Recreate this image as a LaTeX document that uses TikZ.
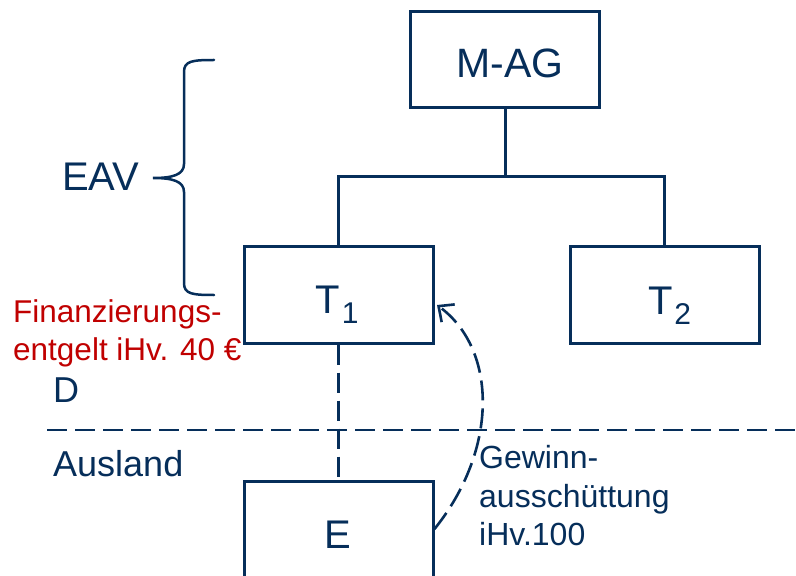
\documentclass[tikz,border=0pt]{standalone}
\usepackage{fontspec}
\setmainfont{Liberation Sans}
\usetikzlibrary{arrows.meta}
\definecolor{navy}{RGB}{6,46,90}
\definecolor{dred}{RGB}{192,0,0}
\newcommand{\fs}[1]{\fontsize{#1bp}{#1bp}\selectfont}
\begin{document}
\begin{tikzpicture}[x=1bp,y=-1bp,
  box/.style={draw=navy,line width=3bp,minimum width=189bp,minimum height=96bp,inner sep=0pt},
  lbl/.style={text=navy,inner sep=0pt},
  redlbl/.style={text=dred,inner sep=0pt,anchor=base west,font=\fs{31.5}},
  conn/.style={draw=navy,line width=3bp},
  dline/.style={draw=navy,line width=2.6bp,dash pattern=on 20bp off 8bp}]
\useasboundingbox (0,0) rectangle (796,576);
% boxes
\node[box] (mag) at (505,60) {};
\node[box] (t1) at (338.5,295) {};
\node[box] (t2) at (664.5,295) {};
\node[box] (e) at (338.5,529) {};
% box labels
\node[lbl,anchor=base,font=\fs{41}] (magl) at (510,78) {M-AG};
\node[lbl,anchor=base,font=\fs{40}] (t1l) at (337,313) {T\kern2bp\raisebox{-10bp}{\fs{30}1}};
\node[lbl,anchor=base,font=\fs{40}] (t2l) at (670,314) {T\kern1bp\raisebox{-10bp}{\fs{30}2}};
\node[lbl,anchor=base,font=\fs{40}] (el) at (338,548) {E};
% tree connectors
\coordinate (bus) at (505,177);
\draw[conn] (mag.south) -- (bus);
\draw[conn,line join=miter] (t1.north) |- (bus) -| (t2.north);
% country border
\coordinate (bl) at (47,430);
\coordinate (br) at (796,430);
\draw[dline] (bl) -- (br);
\draw[dline] (t1.south) -- (e.north);
% dividend arrow
\coordinate (arrend) at (437,305);
\draw[dline,-{Straight Barb[length=12bp,width=22bp,line width=2.6bp]}]
  (e.east) .. controls (498,450) and (498,350) .. (arrend);
% brace
\draw[navy,line width=2.5bp,line cap=round]
  (214,60) .. controls (192,60) and (184,61) .. (184,72) -- (184,164)
  .. controls (184,175) and (172,178) .. (153,178)
  .. controls (172,178) and (184,181) .. (184,192) -- (184,283)
  .. controls (184,294) and (192,295) .. (214,295);
% texts
\node[lbl,anchor=base west,font=\fs{40}] (eav) at (62,191) {EAV};
\node[redlbl] (red1) at (13,322) {Finanzierungs-};
\node[redlbl] (red2) at (13,360) {entgelt iHv. 40 €};
\node[lbl,anchor=base west,font=\fs{36}] (d) at (53,402) {D};
\node[lbl,anchor=base west,font=\fs{36}] (ausl) at (53,476) {Ausland};
\node[lbl,anchor=base west,font=\fs{32}] (g1) at (479,468) {Gewinn-};
\node[lbl,anchor=base west,font=\fs{32}] (g2) at (479,507) {ausschüttung};
\node[lbl,anchor=base west,font=\fs{32}] (g3) at (479,545) {iHv.100};
\end{tikzpicture}
\end{document}
